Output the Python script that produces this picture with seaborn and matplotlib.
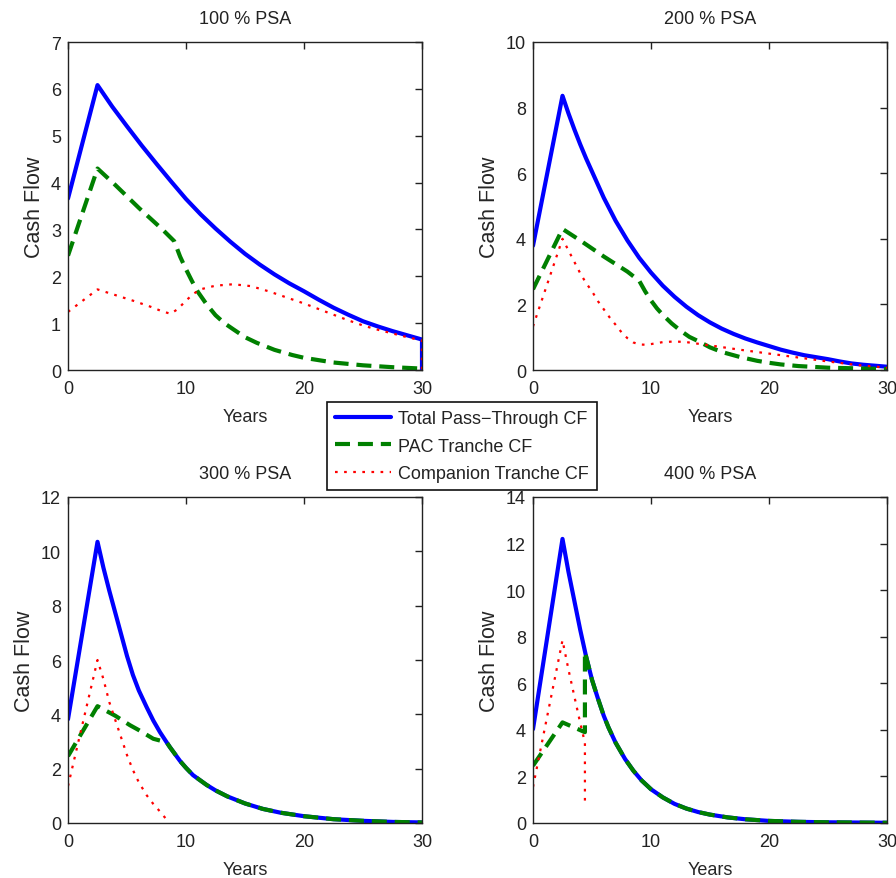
import matplotlib
matplotlib.use("Agg")
import matplotlib.pyplot as plt
import seaborn as sns
import pandas as pd

# ---------------- data ----------------
titles = ["100 % PSA", "200 % PSA", "300 % PSA", "400 % PSA"]
series_labels = ["Total Pass\u2212Through CF", "PAC Tranche CF", "Companion Tranche CF"]
x_ticks = [0, 10, 20, 30]
y_ticks_1 = [0, 1, 2, 3, 4, 5, 6, 7]
y_ticks_2 = [0, 2, 4, 6, 8, 10]
y_ticks_3 = [0, 2, 4, 6, 8, 10, 12]
y_ticks_4 = [0, 2, 4, 6, 8, 10, 12, 14]

# 100 % PSA
t1_total = [0, 2.5, 3.75, 5, 6.25, 7.5, 8.75, 10, 11.25, 12.5, 13.75, 15, 16.25, 17.5,
            18.75, 20, 21.25, 22.5, 23.75, 25, 26.25, 27.5, 28.75, 30, 30]
total1 = [3.66, 6.08, 5.62, 5.2, 4.79, 4.4, 4.02, 3.65, 3.32, 3.02, 2.74, 2.48, 2.25, 2.04,
          1.85, 1.68, 1.5, 1.33, 1.18, 1.04, 0.93, 0.83, 0.74, 0.65, 0.0]
t1_pac = [0, 2.5, 4, 6, 8, 9, 9.5, 10, 10.5, 11, 11.75, 12.5, 13.25, 14, 15, 16, 17.5,
          19, 20, 22.5, 25, 27.5, 30, 30]
pac1 = [2.44, 4.3, 3.95, 3.46, 3.0, 2.75, 2.42, 2.15, 1.9, 1.67, 1.4, 1.17, 1.0, 0.87, 0.7,
        0.58, 0.43, 0.32, 0.26, 0.16, 0.1, 0.06, 0.03, 0.0]
t1_comp = [0, 2.5, 4, 5.5, 7, 8, 8.7, 9.3, 10, 10.6, 11.2, 12.5, 14, 15.5, 17, 18.5, 20,
           21.25, 22.5, 23.75, 25, 26.25, 27.5, 28.75, 30, 30]
comp1 = [1.24, 1.72, 1.6, 1.48, 1.35, 1.25, 1.2, 1.3, 1.48, 1.62, 1.72, 1.8, 1.83, 1.79,
         1.68, 1.55, 1.42, 1.3, 1.18, 1.06, 0.95, 0.86, 0.78, 0.7, 0.63, 0.0]

# 200 % PSA
t2_total = [0, 2.5, 3, 3.5, 4, 4.5, 5, 6, 7, 8, 9, 10, 11, 12, 13, 14, 15, 16, 17, 18,
            19, 20, 21, 22, 23, 24, 25, 26, 27, 28, 29, 30]
total2 = [3.79, 8.36, 7.83, 7.34, 6.88, 6.45, 6.05, 5.25, 4.55, 3.95, 3.42, 2.97, 2.57,
          2.23, 1.93, 1.67, 1.45, 1.26, 1.1, 0.96, 0.84, 0.73, 0.62, 0.53, 0.45, 0.39,
          0.33, 0.26, 0.2, 0.16, 0.13, 0.1]
t2_pac = [0, 2.5, 4, 6, 8, 9, 9.5, 10, 10.5, 11, 11.75, 12.5, 13.25, 14, 15, 16, 17.5,
          19, 20, 21, 22.5, 25, 27.5, 30]
pac2 = [2.46, 4.3, 3.95, 3.46, 3.0, 2.72, 2.4, 2.12, 1.88, 1.68, 1.42, 1.2, 1.01, 0.88,
        0.69, 0.55, 0.4, 0.28, 0.22, 0.17, 0.12, 0.07, 0.05, 0.03]
t2_comp = [0, 2.5, 3, 3.5, 4, 4.5, 5, 5.5, 6, 6.5, 7, 7.5, 8, 8.5, 9, 9.5, 10, 11, 12,
           13, 14, 15, 17.5, 20, 22.5, 25, 27.5, 30]
comp2 = [1.33, 4.0, 3.65, 3.3, 2.95, 2.65, 2.4, 2.1, 1.85, 1.6, 1.38, 1.15, 0.97, 0.84,
         0.78, 0.77, 0.79, 0.85, 0.87, 0.85, 0.8, 0.75, 0.62, 0.5, 0.38, 0.26, 0.15, 0.07]

# 300 % PSA
t3_total = [0, 2.5, 3, 3.5, 4, 4.5, 5, 5.5, 6, 6.67, 7.23, 7.8, 8.36, 8.64, 9.5, 10, 10.6,
            11.75, 12.5, 13.5, 15, 16.5, 18, 20, 22.5, 25, 27.5, 30]
total3 = [3.82, 10.35, 9.4, 8.55, 7.75, 6.95, 6.15, 5.45, 4.88, 4.26, 3.77, 3.34, 2.97,
          2.79, 2.28, 2.03, 1.76, 1.4, 1.2, 0.98, 0.72, 0.52, 0.38, 0.25, 0.14, 0.08,
          0.04, 0.02]
t3_pac = [0, 2.5, 4, 5.25, 6, 7.23, 8.36, 8.64, 9.5, 10, 10.6, 11.75, 12.5, 13.5, 15,
          16.5, 18, 20, 22.5, 25, 27.5, 30]
pac3 = [2.46, 4.3, 3.95, 3.6, 3.42, 3.1, 2.97, 2.79, 2.28, 2.03, 1.76, 1.4, 1.2, 0.98,
        0.72, 0.52, 0.38, 0.25, 0.14, 0.08, 0.04, 0.02]
t3_comp = [0, 2.5, 3, 3.5, 4, 4.5, 5, 5.5, 6, 6.67, 7.23, 7.8, 8.5]
comp3 = [1.36, 6.0, 5.3, 4.45, 3.8, 3.15, 2.5, 1.95, 1.5, 1.02, 0.7, 0.42, 0.05]

# 400 % PSA
t4_total = [0, 2.5, 3, 3.5, 4, 4.5, 5, 5.5, 6, 6.4, 7, 7.8, 8.5, 9.2, 10, 11, 12, 13, 14,
            15, 16.5, 18, 20, 22.5, 25, 27.5, 30]
total4 = [4.03, 12.2, 10.8, 9.55, 8.3, 7.15, 6.15, 5.35, 4.6, 4.1, 3.45, 2.75, 2.25, 1.83,
          1.45, 1.1, 0.82, 0.62, 0.47, 0.36, 0.24, 0.16, 0.09, 0.05, 0.03, 0.02, 0.01]
t4_pac = [0, 2.5, 4.4, 4.4, 4.5, 5, 5.5, 6, 6.4, 7, 7.8, 8.5, 9.2, 10, 11, 12, 13, 14,
          15, 16.5, 18, 20, 22.5, 25, 27.5, 30]
pac4 = [2.46, 4.32, 3.9, 7.35, 7.15, 6.15, 5.35, 4.6, 4.1, 3.45, 2.75, 2.25, 1.83, 1.45,
        1.1, 0.82, 0.62, 0.47, 0.36, 0.24, 0.16, 0.09, 0.05, 0.03, 0.02, 0.01]
t4_comp = [0, 2.5, 3, 3.5, 4, 4.4, 4.4]
comp4 = [1.55, 7.85, 6.6, 5.45, 4.3, 3.45, 0.75]

# ---------------- style ----------------
sns.set_style("white")
plt.rcParams["font.family"] = ["Liberation Sans", "DejaVu Sans"]
plt.rcParams["axes.linewidth"] = 1.0
plt.rcParams["axes.edgecolor"] = "#222222"
plt.rcParams["text.color"] = "#222222"

FS = 13
W, H = 896, 879
fig = plt.figure(figsize=(W / 100, H / 100), dpi=100)

boxes = [
    (68, 43, 422, 371),
    (533, 43, 887, 371),
    (68, 498, 422, 824),
    (533, 498, 887, 824),
]
panels = [
    (t1_total, total1, t1_pac, pac1, t1_comp, comp1, y_ticks_1),
    (t2_total, total2, t2_pac, pac2, t2_comp, comp2, y_ticks_2),
    (t3_total, total3, t3_pac, pac3, t3_comp, comp3, y_ticks_3),
    (t4_total, total4, t4_pac, pac4, t4_comp, comp4, y_ticks_4),
]

colors = ["#0000FF", "#008000", "#FF0000"]
styles = [dict(lw=3.0, linestyle="-"),
          dict(lw=3.0, linestyle=(0, (3.6, 1.9))),
          dict(lw=1.6, linestyle=(0, (1.2, 2.9)))]

handles = None
for (l, t, r, b), title, pdata in zip(boxes, titles, panels):
    ax = fig.add_axes([l / W, 1 - b / H, (r - l) / W, (b - t) / H])
    tt, tv, pt, pv, ct, cv, yt = pdata
    for (xs, ys), col, st, lab in zip([(tt, tv), (pt, pv), (ct, cv)], colors, styles, series_labels):
        df = pd.DataFrame({"Years": xs, "CF": ys})
        sns.lineplot(data=df, x="Years", y="CF", ax=ax, color=col, sort=False,
                     estimator=None, legend=False, label=lab, **st)
    ax.set_xlim(0, 30)
    ax.set_ylim(yt[0], yt[-1])
    ax.set_xticks(x_ticks)
    ax.set_yticks(yt)
    ax.tick_params(direction="in", top=True, right=True, length=5, width=1,
                   labelsize=FS, colors="#222222")
    ax.tick_params(axis="x", pad=7)
    ax.tick_params(axis="y", pad=5)
    ax.set_xlabel("Years", fontsize=FS, labelpad=8)
    ax.set_ylabel("Cash Flow", fontsize=15.5, labelpad=4)
    ax.set_title(title, fontsize=FS, pad=14)
    for s in ax.spines.values():
        s.set_visible(True)
    if handles is None:
        handles = ax.get_lines()[:3]

leg = fig.legend(handles, series_labels, loc="upper left",
                 bbox_to_anchor=(327 / W, 1 - 403 / H), bbox_transform=fig.transFigure,
                 fontsize=FS, frameon=True, fancybox=False, edgecolor="#111111",
                 framealpha=1, borderaxespad=0, borderpad=0.45, handlelength=3.1,
                 handletextpad=0.4, labelspacing=0.58)
leg.get_frame().set_linewidth(1.2)

fig.savefig("out.png", dpi=100)
